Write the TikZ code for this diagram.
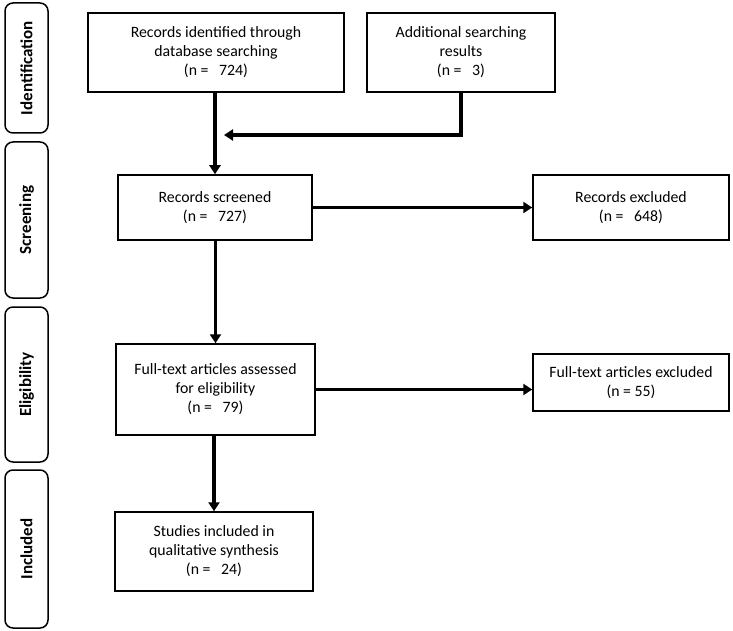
\documentclass[tikz,border=0pt]{standalone}
\usepackage{fontspec}
\setmainfont{Carlito}
\usetikzlibrary{arrows.meta}

\begin{document}
\begin{tikzpicture}[
    x=1pt, y=-1pt,
    box/.style={
        draw, rectangle, line width=1.5pt, align=center, inner sep=2pt,
        font=\fontsize{15.8}{19}\selectfont
    },
    phase/.style={
        draw, rectangle, rounded corners=8pt, line width=1.5pt,
        minimum width=43pt, inner sep=0pt
    },
    phasetxt/.style={
        rotate=90, font=\fontsize{17}{19}\selectfont\bfseries
    },
    arr/.style={
        line width=3.2pt, -{Triangle[width=11pt,length=9pt]}
    },
]
    \useasboundingbox (0,0) rectangle (733,631);

    % phases at the left
    \node[phase, minimum height=130pt](ph1) at (26.5,68){};
    \node[phase, minimum height=156pt](ph2) at (26.5,220){};
    \node[phase, minimum height=155pt](ph3) at (26.5,384.5){};
    \node[phase, minimum height=158pt](ph4) at (26.5,549){};
    \node[phasetxt](ph1t) at (ph1) {Identification};
    \node[phasetxt](ph2t) at (ph2) {Screening};
    \node[phasetxt](ph3t) at (ph3) {Eligibility};
    \node[phasetxt](ph4t) at (ph4) {Included};

    % flow boxes
    \node[box, minimum width=256pt, minimum height=79pt](rid) at (216,52.5)
        {Records identified through\\database searching\\(n =\ \ \ 724)};
    \node[box, minimum width=188pt, minimum height=79pt](add) at (461,52.5)
        {Additional searching\\results\\(n =\ \ \ 3)};
    \node[box, minimum width=194pt, minimum height=65pt](scr) at (215,207.5)
        {Records screened\\(n =\ \ \ 727)};
    \node[box, minimum width=196pt, minimum height=65pt](rex) at (631,207.5)
        {Records excluded\\(n =\ \ \ 648)};
    \node[box, minimum width=199pt, minimum height=91pt](fta) at (215.5,389.5)
        {Full-text articles assessed\\for eligibility\\(n =\ \ \ 79)};
    \node[box, minimum width=196pt, minimum height=57pt](ftx) at (631,382.5)
        {Full-text articles excluded\\(n =\ 55)};
    \node[box, minimum width=198pt, minimum height=79pt](inc) at (214,551.5)
        {Studies included in\\qualitative synthesis\\(n =\ \ \ 24)};

    \coordinate (mrg) at (224,135);

    \draw[arr] (rid.south -| scr.north) -- (scr.north);
    \draw[arr] (add.south) |- (mrg);
    \draw[arr] (scr.east) -- (scr.east -| rex.west);
    \draw[arr] (scr.south) -- (scr.south -| fta.north) -- (fta.north);
    \draw[arr] (fta.east) -- (fta.east -| ftx.west);
    \draw[arr] (fta.south) -- (fta.south -| inc.north) -- (inc.north);

\end{tikzpicture}
\end{document}
